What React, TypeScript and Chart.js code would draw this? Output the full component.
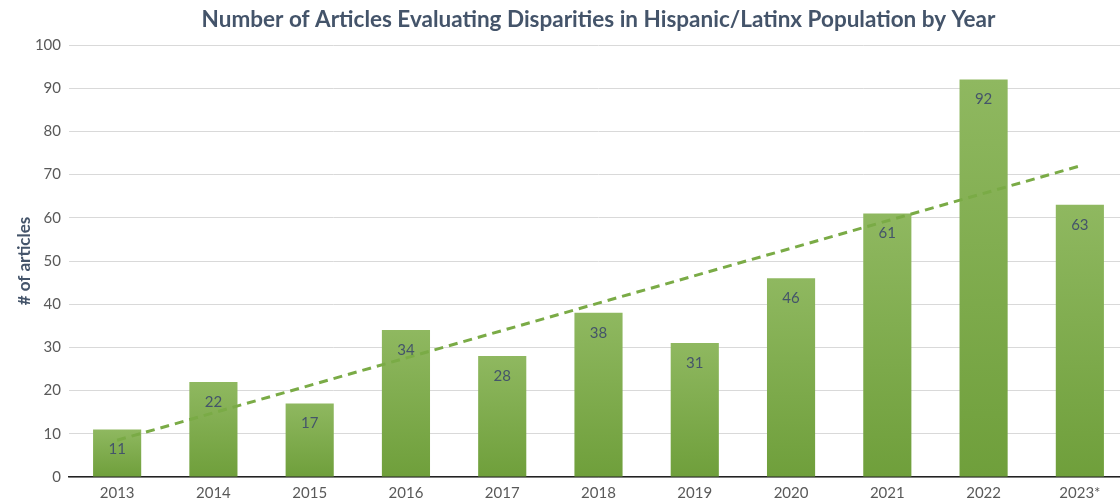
import React, { useEffect, useRef } from "react";
import { Chart, registerables } from "chart.js";

Chart.register(...registerables);

const years = ["2013", "2014", "2015", "2016", "2017", "2018", "2019", "2020", "2021", "2022", "2023*"];
const articles = [11, 22, 17, 34, 28, 38, 31, 46, 61, 92, 63];
const trendStart = 8.5;
const trendEnd = 72;
const yTicks = [0, 10, 20, 30, 40, 50, 60, 70, 80, 90, 100];

const titleText = "Number of Articles Evaluating Disparities in Hispanic/Latinx Population by Year";
const yTitleText = "# of articles";

const FONT = "Lato, 'Open Sans', sans-serif";

const barLabels = {
  id: "barLabels",
  afterDatasetsDraw(chart: any) {
    const meta = chart.getDatasetMeta(0);
    const ctx = chart.ctx;
    ctx.save();
    ctx.fillStyle = "#44546A";
    ctx.font = `15px ${FONT}`;
    ctx.textAlign = "center";
    ctx.textBaseline = "middle";
    meta.data.forEach((el: any, i: number) => {
      ctx.fillText(String(articles[i]), el.x, el.y + 20);
    });
    ctx.restore();
  },
};

export default function App() {
  const ref = useRef<HTMLCanvasElement>(null);
  useEffect(() => {
    document.body.style.margin = "0";
    const trend = years.map((_, i) => (i === 0 ? trendStart : i === years.length - 1 ? trendEnd : null));
    const chart = new Chart(ref.current!, {
      data: {
        labels: years,
        datasets: [
          {
            type: "bar",
            data: articles,
            order: 2,
            categoryPercentage: 0.5,
            barPercentage: 1,
            backgroundColor: (c: any) => {
              const chart = c.chart;
              const ys = chart.scales?.y;
              if (!chart.chartArea || !ys || c.dataIndex === undefined) return "#7eab4c";
              const top = ys.getPixelForValue(articles[c.dataIndex]);
              const bottom = ys.getPixelForValue(0);
              if (!isFinite(top) || !isFinite(bottom) || top === bottom) return "#7eab4c";
              const g = chart.ctx.createLinearGradient(0, top, 0, bottom);
              g.addColorStop(0, "#8fb860");
              g.addColorStop(1, "#6f9f3b");
              return g;
            },
            borderWidth: 0,
          },
          {
            type: "line",
            data: trend,
            order: 1,
            spanGaps: true,
            borderColor: "#7aab46",
            borderWidth: 3,
            borderDash: [9, 6],
            pointRadius: 0,
            fill: false,
          },
        ],
      } as any,
      options: {
        animation: false,
        responsive: false,
        layout: { padding: { left: 0, right: 0, top: 0, bottom: 0 } },
        plugins: {
          legend: { display: false },
          tooltip: { enabled: false },
          title: {
            display: true,
            fullSize: false,
            text: titleText,
            color: "#44546A",
            font: { family: FONT, size: 22.5, weight: "bold" },
            padding: { top: 6, bottom: 12 },
          },
        },
        scales: {
          x: {
            grid: { display: false, drawTicks: false },
            border: { display: true, color: "#222222", width: 1.5 },
            ticks: { color: "#595959", font: { family: FONT, size: 15 }, padding: 7, maxRotation: 0 },
            afterFit: (s: any) => {
              s.height = 26;
            },
          },
          y: {
            min: 0,
            max: 100,
            afterBuildTicks: (s: any) => {
              s.ticks = yTicks.map((v) => ({ value: v }));
            },
            grid: { color: "#d9d9d9", lineWidth: 1, drawTicks: false },
            border: { display: false },
            ticks: { color: "#595959", font: { family: FONT, size: 15 }, padding: 8 },
            title: {
              display: true,
              text: yTitleText,
              color: "#44546A",
              font: { family: FONT, size: 17, weight: "bold" },
              padding: { top: 14, bottom: 0 },
            },
            afterFit: (s: any) => {
              s.width = 69;
            },
          },
        },
      } as any,
      plugins: [barLabels],
    });
    return () => chart.destroy();
  }, []);
  return (
    <div style={{ position: "fixed", left: 0, top: 0, width: 1120, height: 503, overflow: "hidden", background: "#fff" }}>
      <canvas ref={ref} width={1128} height={503} style={{ width: 1128, height: 503, display: "block" }} />
    </div>
  );
}
